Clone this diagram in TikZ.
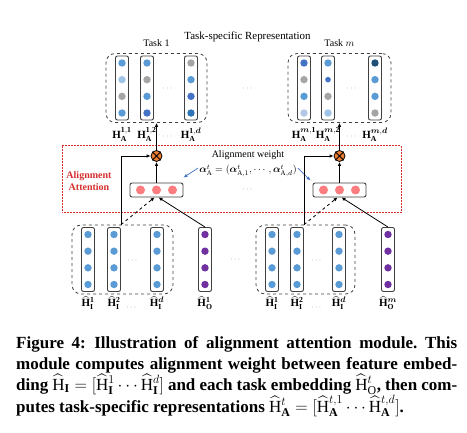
\documentclass[tikz,border=0pt]{standalone}
\usepackage{amsmath}
\usepackage{bm}
\usepackage{fontspec}
\setmainfont{Liberation Serif}
\usepackage{tikz}
\usetikzlibrary{shapes,backgrounds,positioning,fit,arrows.meta}
\usepackage{xcolor}

\definecolor{dotblue}{HTML}{5B9BD5}
\definecolor{dotlight}{HTML}{9DC3E6}
\definecolor{dotpale}{HTML}{B4C7E7}
\definecolor{dotgray}{HTML}{A5A5A5}
\definecolor{dotdark}{HTML}{4472C4}
\definecolor{dotdeep}{HTML}{2E75B6}
\definecolor{dotnavy}{HTML}{1F4E79}
\definecolor{dotpurple}{HTML}{7030A0}
\definecolor{dotpink}{HTML}{FF7C80}
\definecolor{mulorange}{HTML}{ED7D31}
\definecolor{attred}{HTML}{D62D2D}
\definecolor{wblue}{HTML}{4472C4}

\begin{document}
\begin{tikzpicture}[x=1pt,y=-1pt,
    colbox/.style={draw=black!75, line width=0.9pt, rounded corners=2pt,
      minimum width=13pt, minimum height=64pt, inner sep=0pt},
    grpbox/.style={draw=black!75, dashed, line width=0.8pt, rounded corners=9pt,
      inner xsep=9pt, inner ysep=2pt},
    attbox/.style={draw=black!75, line width=0.9pt, rounded corners=2pt,
      minimum width=53pt, minimum height=14pt, inner sep=0pt},
    mulnode/.style={circle, draw=black, fill=mulorange, line width=0.8pt,
      minimum size=11pt, inner sep=0pt},
    lbl/.style={inner sep=1pt},
    mlbl/.style={inner sep=1pt, font=\fontsize{11}{13}\selectfont},
    gdots/.style={text=black!50, inner sep=0pt, font=\footnotesize},
    conn/.style={line width=0.8pt, -{Latex[length=4pt,width=3.5pt]}},
    wtarrow/.style={draw=wblue, line width=0.7pt, -{Latex[length=4pt,width=3.5pt]}},
  ]
  \useasboundingbox (0,0) rectangle (467,433);

  \def\embcol#1#2#3#4{%
    \node[colbox] (#1) at (#2,#3) {};
    \foreach \dotc [count=\k] in {#4}
      \fill[\dotc] (#2,#3-25+16.67*\k-16.67) circle (3.7pt);
  }

  % task-specific representations
  \node[font=\fontsize{10.9}{13}\selectfont] (title) at (247.5,37) {Task-specific Representation};
  \embcol{t11}{122}{88}{dotblue,dotlight,dotgray,dotblue}
  \embcol{t12}{147}{88}{dotblue,dotgray,dotblue,dotdark}
  \embcol{t1d}{191}{88}{dotgray,dotblue,dotdark,dotdeep}
  \embcol{tm1}{304}{88}{dotdark,dotgray,dotblue,dotpale}
  \embcol{tm2}{328}{88}{dotblue,white,dotgray,dotlight}
  \fill[dotdark] (328,79.67) circle (2.8pt);
  \embcol{tmd}{375}{88}{dotnavy,dotblue,dotblue,dotgray}

  \node[grpbox, fit=(t11)(t1d)] (gT1) {};
  \node[grpbox, fit=(tm1)(tmd)] (gTm) {};
  \node[lbl, above=5pt of gT1] (task1) {Task 1};
  \node[lbl, above=5pt of gTm] (taskm) {Task $m$};

  \node[mlbl, below=6pt of t11] (lt11) {$\mathbf{H}_{\mathbf{A}}^{\mathbf{1,1}}$};
  \node[mlbl, below=6pt of t12] (lt12) {$\mathbf{H}_{\mathbf{A}}^{\mathbf{1,2}}$};
  \node[mlbl, below=6pt of t1d] (lt1d) {$\mathbf{H}_{\mathbf{A}}^{\mathbf{1},\bm{d}}$};
  \node[mlbl, below=6pt of tm1] (ltm1) {$\mathbf{H}_{\mathbf{A}}^{\bm{m},\mathbf{1}}$};
  \node[mlbl, below=6pt of tm2] (ltm2) {$\mathbf{H}_{\mathbf{A}}^{\bm{m},\mathbf{2}}$};
  \node[mlbl, below=6pt of tmd] (ltmd) {$\mathbf{H}_{\mathbf{A}}^{\bm{m},\bm{d}}$};

  \node[gdots] (d1) at (168,89) {$\cdots$};
  \node[gdots] (d2) at (352,89) {$\cdots$};
  \node[gdots] (d3) at (248,89) {$\cdots$};
  \node[gdots] (d4) at (168,137) {$\cdots$};
  \node[gdots] (d5) at (352,137) {$\cdots$};

  % alignment attention
  \draw[attred, dash pattern=on 2pt off 1pt, line width=1pt] (62,146) rectangle (401,213);
  \node[text=attred, font=\bfseries, align=center] (attname) at (89,181) {Alignment\\Attention};

  \node[mulnode] (mul1) at (156.5,156) {};
  \node[mulnode] (mul2) at (339.5,156) {};
  \draw[line width=0.8pt] (mul1.north west) -- (mul1.south east) (mul1.north east) -- (mul1.south west);
  \draw[line width=0.8pt] (mul2.north west) -- (mul2.south east) (mul2.north east) -- (mul2.south west);

  \node[attbox] (att1) at (156.5,190) {};
  \node[attbox] (att2) at (339.5,190) {};
  \foreach \dx in {-16,0,16} {
    \fill[dotpink] (156.5+\dx,190) circle (4.5pt);
    \fill[dotpink] (339.5+\dx,190) circle (4.5pt);
  }

  \node (wlabel) at (248,155) {Alignment weight};
  \node[inner sep=1pt] (wform) at (248,171)
    {$\bm{\alpha}^{t}_{\mathrm{A}}=(\bm{\alpha}^{t}_{\mathrm{A},1},\cdots,\bm{\alpha}^{t}_{\mathrm{A},d})$};
  \node[gdots] (d6) at (248,190) {$\cdots$};
  \draw[wtarrow] ([yshift=3pt]wform.west) -- ([yshift=5pt]att1.north east);
  \draw[wtarrow] ([yshift=3pt]wform.east) -- ([xshift=-2pt,yshift=2pt]att2.north west);

  % input and task embeddings
  \foreach \nm/\xx in {b11/88,b12/114,b1d/157,b21/272,b22/297,b2d/339} {
    \embcol{\nm}{\xx}{259.5}{dotblue,dotblue,dotblue,dotblue}
  }
  \embcol{bo1}{205}{259.5}{dotpurple,dotpurple,dotpurple,dotpurple}
  \embcol{bo2}{388}{259.5}{dotpurple,dotpurple,dotpurple,dotpurple}

  \node[grpbox, fit=(b11)(b1d)] (gI1) {};
  \node[grpbox, fit=(b21)(b2d)] (gI2) {};

  \node[mlbl, below=3pt of b11] (lb11) {$\widehat{\mathbf{H}}_{\mathbf{I}}^{\mathbf{1}}$};
  \node[mlbl, below=3pt of b12] (lb12) {$\widehat{\mathbf{H}}_{\mathbf{I}}^{\mathbf{2}}$};
  \node[mlbl, below=3pt of b1d] (lb1d) {$\widehat{\mathbf{H}}_{\mathbf{I}}^{\bm{d}}$};
  \node[mlbl, below=3pt of bo1] (lbo1) {$\widehat{\mathbf{H}}_{\mathbf{O}}^{\mathbf{1}}$};
  \node[mlbl, below=3pt of b21] (lb21) {$\widehat{\mathbf{H}}_{\mathbf{I}}^{\mathbf{1}}$};
  \node[mlbl, below=3pt of b22] (lb22) {$\widehat{\mathbf{H}}_{\mathbf{I}}^{\mathbf{2}}$};
  \node[mlbl, below=3pt of b2d] (lb2d) {$\widehat{\mathbf{H}}_{\mathbf{I}}^{\bm{d}}$};
  \node[mlbl, below=3pt of bo2] (lbo2) {$\widehat{\mathbf{H}}_{\mathbf{O}}^{\bm{m}}$};

  \node[gdots] (d7) at (133,261) {$\cdots$};
  \node[gdots] (d8) at (317,261) {$\cdots$};
  \node[gdots] (d9) at (236,260) {$\cdots$};
  \node[gdots] (d10) at (132,308) {$\cdots$};
  \node[gdots] (d11) at (317,308) {$\cdots$};

  % connectors
  \draw[conn] (att1.north) -- (mul1.south);
  \draw[conn] (att2.north) -- (mul2.south);
  \draw[conn] (mul1.north) -- (gT1.south);
  \draw[conn] (mul2.north) -- (gTm.south);
  \draw[conn] (gI1.north -| b12.east) |- (mul1.west);
  \draw[conn] (gI2.north -| b22.east) |- (mul2.west);
  \draw[conn, dashed] (gI1.north -| b12.east) -- ([xshift=-2pt]att1.south);
  \draw[conn, dashed] (gI2.north -| b22.east) -- ([xshift=-2pt]att2.south);
  \draw[conn] (bo1.north) -- ([xshift=2pt]att1.south);
  \draw[conn] (bo2.north) -- ([xshift=2pt]att2.south);

  % caption
  \node[anchor=north west, inner sep=0pt, text width=441pt, align=justify,
    font=\fontsize{17}{20.7}\selectfont\bfseries] (caption) at (16,336.5)
    {\tolerance=9999\relax\frenchspacing
     Figure 4:\enspace Illustration of alignment attention module. This\linebreak
     module computes alignment weight between feature embed-\linebreak
     ding $\widehat{\mathrm{H}}_{\mathbf{I}}=[\widehat{\mathrm{H}}^{1}_{\mathbf{I}}\cdots\widehat{\mathrm{H}}^{d}_{\mathbf{I}}]$
     and each task embedding $\widehat{\mathrm{H}}^{t}_{\mathrm{O}}$, then com-\linebreak
     putes task-specific representations $\widehat{\mathrm{H}}^{t}_{\mathbf{A}}=[\widehat{\mathrm{H}}^{t,1}_{\mathbf{A}}\cdots\widehat{\mathrm{H}}^{t,d}_{\mathbf{A}}]$.};
\end{tikzpicture}
\end{document}
